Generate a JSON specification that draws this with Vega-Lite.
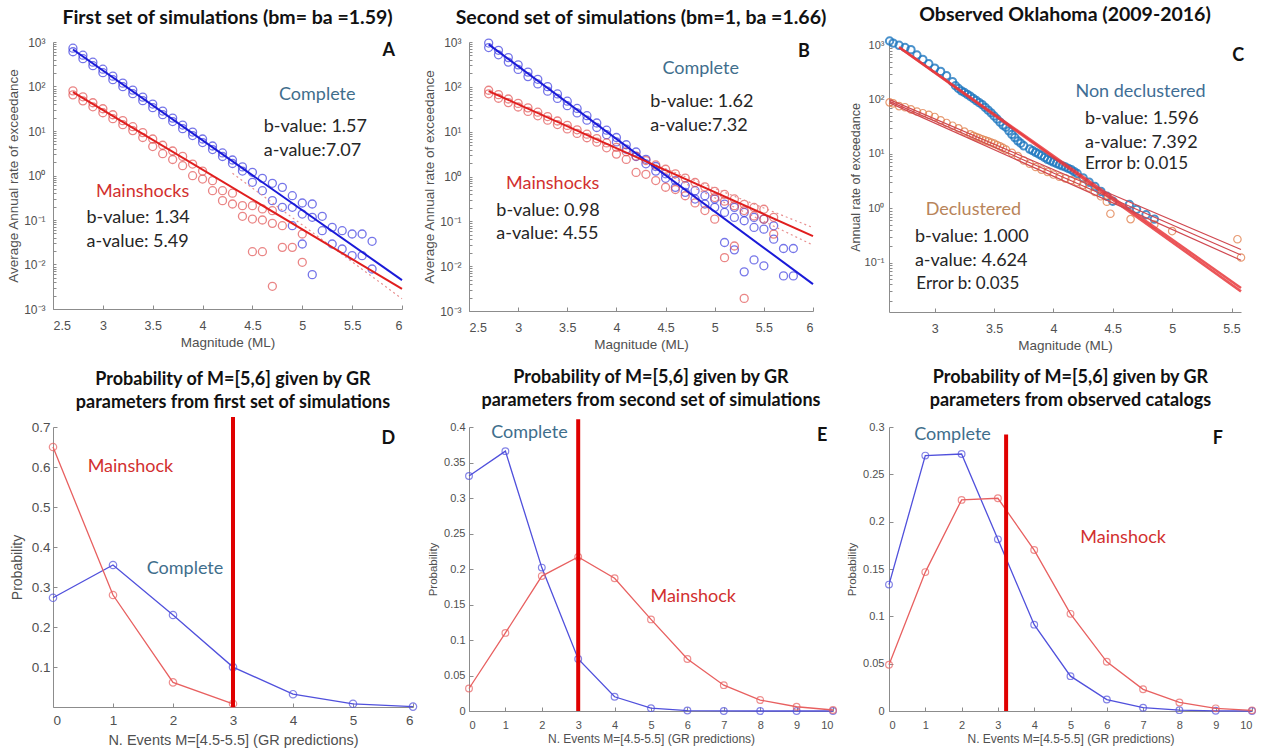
{
"$schema": "https://vega.github.io/schema/vega-lite/v6.json",
"padding": {"left": 6, "top": 4, "right": 4, "bottom": 4},
"background": "white",
"columns": 3,
"align": "none",
"bounds": "flush",
"spacing": {"row": 115, "column": 56},
"config": {
  "view": {"stroke": null},
  "axis": {"grid": false, "domainColor": "#8c8c8c", "tickColor": "#8c8c8c", "tickSize": -4, "labelColor": "#505050", "titleColor": "#505050", "labelFont": "Liberation Sans", "titleFont": "Liberation Sans", "titleFontWeight": "normal", "labelOverlap": false},
  "title": {"font": "Lato", "fontWeight": "bold", "fontSize": 19.5, "color": "#111111", "frame": "group", "anchor": "middle", "baseline": "bottom"},
  "text": {"font": "Lato"}
},
"datasets": {
  "A": [
    {"g":"c","m":2.7,"v":726},{"g":"c","m":2.7,"v":604},{"g":"c","m":2.8,"v":506},{"g":"c","m":2.8,"v":421},{"g":"c","m":2.9,"v":352},{"g":"c","m":2.9,"v":293},{"g":"c","m":3.0,"v":245},{"g":"c","m":3.0,"v":204},{"g":"c","m":3.1,"v":171},{"g":"c","m":3.1,"v":142},{"g":"c","m":3.2,"v":119},{"g":"c","m":3.2,"v":99.1},{"g":"c","m":3.3,"v":83.0},{"g":"c","m":3.3,"v":69.0},{"g":"c","m":3.4,"v":57.8},{"g":"c","m":3.4,"v":48.1},{"g":"c","m":3.5,"v":40.3},{"g":"c","m":3.5,"v":33.5},{"g":"c","m":3.6,"v":28.1},{"g":"c","m":3.6,"v":23.3},{"g":"c","m":3.7,"v":19.5},{"g":"c","m":3.7,"v":16.3},{"g":"c","m":3.8,"v":13.6},{"g":"c","m":3.8,"v":11.3},{"g":"c","m":3.9,"v":9.48},{"g":"c","m":3.9,"v":7.89},{"g":"c","m":4.0,"v":6.61},{"g":"c","m":4.0,"v":5.50},{"g":"c","m":4.1,"v":4.60},{"g":"c","m":4.1,"v":3.83},{"g":"c","m":4.2,"v":3.21},{"g":"c","m":4.2,"v":2.67},{"g":"c","m":4.3,"v":2.23},{"g":"c","m":4.3,"v":1.86},{"g":"c","m":4.4,"v":1.56},{"g":"c","m":4.4,"v":1.26},{"g":"c","m":4.5,"v":1.18},{"g":"c","m":4.5,"v":0.703},{"g":"c","m":4.6,"v":0.863},{"g":"c","m":4.6,"v":0.456},{"g":"c","m":4.7,"v":0.667},{"g":"c","m":4.7,"v":0.272},{"g":"c","m":4.8,"v":0.542},{"g":"c","m":4.8,"v":0.193},{"g":"c","m":4.9,"v":0.352},{"g":"c","m":4.9,"v":0.193},{"g":"c","m":4.9,"v":0.0746},{"g":"c","m":5.0,"v":0.241},{"g":"c","m":5.0,"v":0.136},{"g":"c","m":5.0,"v":0.0289},{"g":"c","m":5.1,"v":0.229},{"g":"c","m":5.1,"v":0.115},{"g":"c","m":5.1,"v":0.00592},{"g":"c","m":5.2,"v":0.121},{"g":"c","m":5.2,"v":0.0575},{"g":"c","m":5.3,"v":0.0684},{"g":"c","m":5.3,"v":0.0289},{"g":"c","m":5.4,"v":0.0575},{"g":"c","m":5.4,"v":0.0223},{"g":"c","m":5.5,"v":0.0484},{"g":"c","m":5.5,"v":0.0158},{"g":"c","m":5.6,"v":0.0484},{"g":"c","m":5.6,"v":0.0158},{"g":"c","m":5.7,"v":0.0332},{"g":"c","m":5.7,"v":0.00793},
    {"g":"m","m":2.7,"v":79.8},{"g":"m","m":2.7,"v":64.9},{"g":"m","m":2.8,"v":58.6},{"g":"m","m":2.8,"v":47.6},{"g":"m","m":2.9,"v":43.1},{"g":"m","m":2.9,"v":35.0},{"g":"m","m":3.0,"v":31.6},{"g":"m","m":3.0,"v":25.7},{"g":"m","m":3.1,"v":23.2},{"g":"m","m":3.1,"v":18.9},{"g":"m","m":3.2,"v":17.1},{"g":"m","m":3.2,"v":13.9},{"g":"m","m":3.3,"v":12.5},{"g":"m","m":3.3,"v":10.2},{"g":"m","m":3.4,"v":9.20},{"g":"m","m":3.4,"v":7.14},{"g":"m","m":3.5,"v":6.61},{"g":"m","m":3.5,"v":4.47},{"g":"m","m":3.6,"v":4.79},{"g":"m","m":3.6,"v":3.09},{"g":"m","m":3.7,"v":3.55},{"g":"m","m":3.7,"v":2.29},{"g":"m","m":3.8,"v":2.69},{"g":"m","m":3.8,"v":1.66},{"g":"m","m":3.9,"v":1.81},{"g":"m","m":3.9,"v":0.991},{"g":"m","m":4.0,"v":1.26},{"g":"m","m":4.0,"v":0.832},{"g":"m","m":4.1,"v":0.766},{"g":"m","m":4.1,"v":0.456},{"g":"m","m":4.2,"v":0.456},{"g":"m","m":4.2,"v":0.272},{"g":"m","m":4.3,"v":0.40},{"g":"m","m":4.3,"v":0.229},{"g":"m","m":4.4,"v":0.210},{"g":"m","m":4.4,"v":0.121},{"g":"m","m":4.5,"v":0.210},{"g":"m","m":4.5,"v":0.105},{"g":"m","m":4.5,"v":0.0194},{"g":"m","m":4.6,"v":0.177},{"g":"m","m":4.6,"v":0.100},{"g":"m","m":4.6,"v":0.0194},{"g":"m","m":4.7,"v":0.162},{"g":"m","m":4.7,"v":0.0841},{"g":"m","m":4.7,"v":0.00324},{"g":"m","m":4.8,"v":0.0746},{"g":"m","m":4.8,"v":0.0243},{"g":"m","m":4.9,"v":0.0243},{"g":"m","m":5.0,"v":0.0484},{"g":"m","m":5.0,"v":0.0112}
  ],
  "AL": [
    {"id":"bf","m":2.7,"v":678},{"id":"bf","m":6.0,"v":0.00447},
    {"id":"rf","m":2.7,"v":74.5},{"id":"rf","m":6.0,"v":0.00282},
    {"id":"d1","m":4.3,"v":1.12},{"id":"d1","m":6.0,"v":0.0017}
  ],
  "AT": [
    {"k":"c","t":"Complete","m":5.15,"v":64.5},
    {"k":"s","t":"b-value: 1.57","m":4.613,"v":12.3},
    {"k":"s","t":"a-value:7.07","m":4.613,"v":3.56},
    {"k":"m","t":"Mainshocks","m":3.399,"v":0.426},
    {"k":"s","t":"b-value: 1.34","m":2.836,"v":0.111},
    {"k":"s","t":"a-value: 5.49","m":2.836,"v":0.0321},
    {"k":"L","t":"A","m":5.868,"v":628}
  ],
  "B": [
    {"g":"c","m":2.7,"v":946},{"g":"c","m":2.7,"v":752},{"g":"c","m":2.8,"v":652},{"g":"c","m":2.8,"v":518},{"g":"c","m":2.9,"v":449},{"g":"c","m":2.9,"v":356},{"g":"c","m":3.0,"v":309},{"g":"c","m":3.0,"v":245},{"g":"c","m":3.1,"v":213},{"g":"c","m":3.1,"v":169},{"g":"c","m":3.2,"v":147},{"g":"c","m":3.2,"v":116},{"g":"c","m":3.3,"v":101},{"g":"c","m":3.3,"v":80.2},{"g":"c","m":3.4,"v":69.5},{"g":"c","m":3.4,"v":55.2},{"g":"c","m":3.5,"v":47.9},{"g":"c","m":3.5,"v":38.0},{"g":"c","m":3.6,"v":33.0},{"g":"c","m":3.6,"v":26.2},{"g":"c","m":3.7,"v":22.7},{"g":"c","m":3.7,"v":18.0},{"g":"c","m":3.8,"v":15.6},{"g":"c","m":3.8,"v":12.4},{"g":"c","m":3.9,"v":10.8},{"g":"c","m":3.9,"v":8.55},{"g":"c","m":4.0,"v":7.41},{"g":"c","m":4.0,"v":5.89},{"g":"c","m":4.1,"v":5.11},{"g":"c","m":4.1,"v":4.06},{"g":"c","m":4.2,"v":3.52},{"g":"c","m":4.2,"v":2.79},{"g":"c","m":4.3,"v":2.42},{"g":"c","m":4.3,"v":1.92},{"g":"c","m":4.4,"v":1.67},{"g":"c","m":4.4,"v":1.32},{"g":"c","m":4.5,"v":1.15},{"g":"c","m":4.5,"v":0.912},{"g":"c","m":4.6,"v":0.807},{"g":"c","m":4.6,"v":0.573},{"g":"c","m":4.7,"v":0.624},{"g":"c","m":4.7,"v":0.443},{"g":"c","m":4.8,"v":0.482},{"g":"c","m":4.8,"v":0.314},{"g":"c","m":4.9,"v":0.373},{"g":"c","m":4.9,"v":0.243},{"g":"c","m":5.0,"v":0.314},{"g":"c","m":5.0,"v":0.205},{"g":"c","m":5.1,"v":0.243},{"g":"c","m":5.1,"v":0.158},{"g":"c","m":5.1,"v":0.0337},{"g":"c","m":5.2,"v":0.205},{"g":"c","m":5.2,"v":0.122},{"g":"c","m":5.2,"v":0.0231},{"g":"c","m":5.3,"v":0.158},{"g":"c","m":5.3,"v":0.103},{"g":"c","m":5.3,"v":0.00746},{"g":"c","m":5.4,"v":0.122},{"g":"c","m":5.4,"v":0.0731},{"g":"c","m":5.4,"v":0.0138},{"g":"c","m":5.5,"v":0.112},{"g":"c","m":5.5,"v":0.0670},{"g":"c","m":5.5,"v":0.0102},{"g":"c","m":5.6,"v":0.0796},{"g":"c","m":5.6,"v":0.0401},{"g":"c","m":5.7,"v":0.0248},{"g":"c","m":5.7,"v":0.00607},{"g":"c","m":5.8,"v":0.0248},{"g":"c","m":5.8,"v":0.00607},
    {"g":"m","m":2.7,"v":83.9},{"g":"m","m":2.7,"v":69.8},{"g":"m","m":2.8,"v":67.0},{"g":"m","m":2.8,"v":55.7},{"g":"m","m":2.9,"v":53.5},{"g":"m","m":2.9,"v":44.5},{"g":"m","m":3.0,"v":42.7},{"g":"m","m":3.0,"v":35.5},{"g":"m","m":3.1,"v":34.0},{"g":"m","m":3.1,"v":28.3},{"g":"m","m":3.2,"v":27.2},{"g":"m","m":3.2,"v":22.6},{"g":"m","m":3.3,"v":21.7},{"g":"m","m":3.3,"v":18.0},{"g":"m","m":3.4,"v":17.3},{"g":"m","m":3.4,"v":14.4},{"g":"m","m":3.5,"v":13.8},{"g":"m","m":3.5,"v":11.5},{"g":"m","m":3.6,"v":11.0},{"g":"m","m":3.6,"v":9.16},{"g":"m","m":3.7,"v":8.79},{"g":"m","m":3.7,"v":7.31},{"g":"m","m":3.8,"v":7.01},{"g":"m","m":3.8,"v":5.83},{"g":"m","m":3.9,"v":5.60},{"g":"m","m":3.9,"v":4.37},{"g":"m","m":4.0,"v":4.47},{"g":"m","m":4.0,"v":3.16},{"g":"m","m":4.1,"v":3.56},{"g":"m","m":4.1,"v":2.40},{"g":"m","m":4.2,"v":2.84},{"g":"m","m":4.2,"v":1.23},{"g":"m","m":4.3,"v":2.27},{"g":"m","m":4.3,"v":1.12},{"g":"m","m":4.4,"v":1.81},{"g":"m","m":4.4,"v":0.813},{"g":"m","m":4.5,"v":1.45},{"g":"m","m":4.5,"v":0.575},{"g":"m","m":4.6,"v":1.15},{"g":"m","m":4.6,"v":0.513},{"g":"m","m":4.7,"v":0.920},{"g":"m","m":4.7,"v":0.372},{"g":"m","m":4.8,"v":0.735},{"g":"m","m":4.8,"v":0.257},{"g":"m","m":4.9,"v":0.586},{"g":"m","m":4.9,"v":0.174},{"g":"m","m":5.0,"v":0.468},{"g":"m","m":5.0,"v":0.339},{"g":"m","m":5.0,"v":0.112},{"g":"m","m":5.1,"v":0.398},{"g":"m","m":5.1,"v":0.282},{"g":"m","m":5.1,"v":0.0155},{"g":"m","m":5.2,"v":0.316},{"g":"m","m":5.2,"v":0.224},{"g":"m","m":5.2,"v":0.0282},{"g":"m","m":5.3,"v":0.240},{"g":"m","m":5.3,"v":0.174},{"g":"m","m":5.3,"v":0.00191},{"g":"m","m":5.4,"v":0.204},{"g":"m","m":5.4,"v":0.132},{"g":"m","m":5.5,"v":0.186},{"g":"m","m":5.5,"v":0.112},{"g":"m","m":5.6,"v":0.123},{"g":"m","m":5.6,"v":0.0519}
  ],
  "BL": [
    {"id":"bf","m":2.7,"v":883},{"id":"bf","m":6.0,"v":0.00398},
    {"id":"rf","m":2.7,"v":80.2},{"id":"rf","m":6.0,"v":0.0468},
    {"id":"d1","m":4.4,"v":1.82},{"id":"d1","m":6.0,"v":0.0724},
    {"id":"d2","m":4.4,"v":1.45},{"id":"d2","m":6.0,"v":0.0295}
  ],
  "BT": [
    {"k":"c","t":"Complete","m":4.857,"v":253},
    {"k":"s","t":"b-value: 1.62","m":4.343,"v":45.6},
    {"k":"s","t":"a-value:7.32","m":4.343,"v":13.7},
    {"k":"m","t":"Mainshocks","m":3.352,"v":0.679},
    {"k":"s","t":"b-value: 0.98","m":2.778,"v":0.172},
    {"k":"s","t":"a-value: 4.55","m":2.778,"v":0.0518},
    {"k":"L","t":"B","m":5.908,"v":598}
  ],
  "C": [
    {"g":"b","m":2.62,"v":1202},{"g":"b","m":2.65,"v":1096},{"g":"b","m":2.70,"v":1000},{"g":"b","m":2.75,"v":912},{"g":"b","m":2.80,"v":832},{"g":"b","m":2.85,"v":661},{"g":"b","m":2.90,"v":550},{"g":"b","m":2.95,"v":457},{"g":"b","m":3.00,"v":380},{"g":"b","m":3.05,"v":331},{"g":"b","m":3.10,"v":275},{"g":"b","m":3.15,"v":214},{"g":"b","m":3.175,"v":180},{"g":"b","m":3.20,"v":160},{"g":"b","m":3.225,"v":145},{"g":"b","m":3.25,"v":135},{"g":"b","m":3.275,"v":125},{"g":"b","m":3.30,"v":115},{"g":"b","m":3.325,"v":105},{"g":"b","m":3.35,"v":96},{"g":"b","m":3.375,"v":88},{"g":"b","m":3.40,"v":81},{"g":"b","m":3.425,"v":72},{"g":"b","m":3.45,"v":64},{"g":"b","m":3.475,"v":57},{"g":"b","m":3.50,"v":50},{"g":"b","m":3.525,"v":44},{"g":"b","m":3.55,"v":38.5},{"g":"b","m":3.575,"v":34},{"g":"b","m":3.60,"v":31},{"g":"b","m":3.625,"v":26.6},{"g":"b","m":3.65,"v":22.9},{"g":"b","m":3.675,"v":20.0},{"g":"b","m":3.70,"v":17.4},{"g":"b","m":3.725,"v":15.7},{"g":"b","m":3.75,"v":14.1},{"g":"b","m":3.80,"v":12.3},{"g":"b","m":3.825,"v":11.5},{"g":"b","m":3.85,"v":10.7},{"g":"b","m":3.875,"v":10.0},{"g":"b","m":3.90,"v":9.33},{"g":"b","m":3.925,"v":8.61},{"g":"b","m":3.95,"v":7.94},{"g":"b","m":3.975,"v":7.50},{"g":"b","m":4.00,"v":7.08},{"g":"b","m":4.025,"v":6.68},{"g":"b","m":4.05,"v":6.31},{"g":"b","m":4.075,"v":6.03},{"g":"b","m":4.10,"v":5.75},{"g":"b","m":4.125,"v":5.43},{"g":"b","m":4.15,"v":5.13},{"g":"b","m":4.175,"v":4.73},{"g":"b","m":4.20,"v":4.37},{"g":"b","m":4.25,"v":3.63},{"g":"b","m":4.30,"v":3.02},{"g":"b","m":4.35,"v":2.51},{"g":"b","m":4.40,"v":2.04},{"g":"b","m":4.45,"v":1.66},{"g":"b","m":4.50,"v":1.35},{"g":"b","m":4.64,"v":1.17},{"g":"b","m":4.70,"v":0.955},{"g":"b","m":4.78,"v":0.759},{"g":"b","m":4.85,"v":0.631},
    {"g":"o","m":2.62,"v":89.1},{"g":"o","m":2.65,"v":85.1},{"g":"o","m":2.70,"v":75.9},{"g":"o","m":2.75,"v":72.4},{"g":"o","m":2.80,"v":66.1},{"g":"o","m":2.85,"v":60.3},{"g":"o","m":2.90,"v":56.2},{"g":"o","m":2.95,"v":52.5},{"g":"o","m":3.00,"v":47.9},{"g":"o","m":3.05,"v":41.7},{"g":"o","m":3.10,"v":37.2},{"g":"o","m":3.15,"v":33.1},{"g":"o","m":3.20,"v":29.5},{"g":"o","m":3.25,"v":25.7},{"g":"o","m":3.30,"v":22.9},{"g":"o","m":3.325,"v":21.5},{"g":"o","m":3.35,"v":20.4},{"g":"o","m":3.375,"v":19.5},{"g":"o","m":3.40,"v":18.6},{"g":"o","m":3.425,"v":17.8},{"g":"o","m":3.45,"v":17.0},{"g":"o","m":3.475,"v":16.2},{"g":"o","m":3.50,"v":15.5},{"g":"o","m":3.525,"v":14.6},{"g":"o","m":3.55,"v":13.8},{"g":"o","m":3.575,"v":12.9},{"g":"o","m":3.60,"v":12.0},{"g":"o","m":3.65,"v":10.5},{"g":"o","m":3.70,"v":9.12},{"g":"o","m":3.75,"v":7.59},{"g":"o","m":3.80,"v":6.61},{"g":"o","m":3.85,"v":5.75},{"g":"o","m":3.90,"v":5.13},{"g":"o","m":3.95,"v":4.68},{"g":"o","m":4.00,"v":4.17},{"g":"o","m":4.05,"v":3.80},{"g":"o","m":4.10,"v":3.55},{"g":"o","m":4.15,"v":3.31},{"g":"o","m":4.20,"v":3.02},{"g":"o","m":4.25,"v":2.69},{"g":"o","m":4.30,"v":2.40},{"g":"o","m":4.35,"v":2.00},{"g":"o","m":4.40,"v":1.66},{"g":"o","m":4.45,"v":1.32},{"g":"o","m":4.48,"v":0.794},{"g":"o","m":4.65,"v":0.631},{"g":"o","m":4.85,"v":0.501},{"g":"o","m":5.00,"v":0.380},{"g":"o","m":5.55,"v":0.269},{"g":"o","m":5.58,"v":0.124}
  ],
  "CL": [
    {"id":"th","m":2.70,"v":920},{"id":"th","m":5.58,"v":0.0295},
    {"id":"th2","m":2.70,"v":920},{"id":"th2","m":5.58,"v":0.034},
    {"id":"t1","m":2.62,"v":100},{"id":"t1","m":5.58,"v":0.174},
    {"id":"t2","m":2.62,"v":93},{"id":"t2","m":5.58,"v":0.138},
    {"id":"t3","m":2.62,"v":87},{"id":"t3","m":5.58,"v":0.110}
  ],
  "CT": [
    {"k":"nd","t":"Non declustered","m":4.734,"v":138},
    {"k":"s","t":"b-value: 1.596","m":4.266,"v":43.3},
    {"k":"s","t":"a-value: 7.392","m":4.266,"v":15.7},
    {"k":"e","t":"Error b: 0.015","m":4.266,"v":6.59},
    {"k":"dc","t":"Declustered","m":3.326,"v":0.923},
    {"k":"s","t":"b-value: 1.000","m":2.833,"v":0.301},
    {"k":"s","t":"a-value: 4.624","m":2.833,"v":0.108},
    {"k":"e","t":"Error b: 0.035","m":2.845,"v":0.0405},
    {"k":"L","t":"C","m":5.556,"v":646}
  ],
  "D": [
    {"g":"c","k":0,"p":0.273},{"g":"c","k":1,"p":0.355},{"g":"c","k":2,"p":0.230},{"g":"c","k":3,"p":0.0998},{"g":"c","k":4,"p":0.032},{"g":"c","k":5,"p":0.008},{"g":"c","k":6,"p":0.001},
    {"g":"m","k":0,"p":0.650},{"g":"m","k":1,"p":0.280},{"g":"m","k":2,"p":0.0615},{"g":"m","k":3,"p":0.008}
  ],
  "DR": [{"k":3,"p":0,"p2":0.725}],
  "DT": [
    {"g":"m","t":"Mainshock","k":1.29,"p":0.600},
    {"g":"c","t":"Complete","k":2.20,"p":0.344},
    {"g":"L","t":"D","k":5.59,"p":0.671}
  ],
  "E": [
    {"g":"c","k":0,"p":0.331},{"g":"c","k":1,"p":0.366},{"g":"c","k":2,"p":0.202},{"g":"c","k":3,"p":0.0733},{"g":"c","k":4,"p":0.020},{"g":"c","k":5,"p":0.004},{"g":"c","k":6,"p":0.0006},{"g":"c","k":7,"p":0.0001},{"g":"c","k":8,"p":0},{"g":"c","k":9,"p":0},{"g":"c","k":10,"p":0},
    {"g":"m","k":0,"p":0.0317},{"g":"m","k":1,"p":0.110},{"g":"m","k":2,"p":0.190},{"g":"m","k":3,"p":0.217},{"g":"m","k":4,"p":0.187},{"g":"m","k":5,"p":0.129},{"g":"m","k":6,"p":0.0733},{"g":"m","k":7,"p":0.0364},{"g":"m","k":8,"p":0.0154},{"g":"m","k":9,"p":0.006},{"g":"m","k":10,"p":0.0014}
  ],
  "ER": [{"k":3,"p":0,"p2":0.411}],
  "ET": [
    {"g":"c","t":"Complete","k":1.66,"p":0.392},
    {"g":"m","t":"Mainshock","k":6.16,"p":0.161},
    {"g":"L","t":"E","k":9.70,"p":0.387}
  ],
  "F": [
    {"g":"c","k":0,"p":0.1335},{"g":"c","k":1,"p":0.2698},{"g":"c","k":2,"p":0.2715},{"g":"c","k":3,"p":0.1813},{"g":"c","k":4,"p":0.0912},{"g":"c","k":5,"p":0.0368},{"g":"c","k":6,"p":0.0121},{"g":"c","k":7,"p":0.0035},{"g":"c","k":8,"p":0.0009},{"g":"c","k":9,"p":0.0002},{"g":"c","k":10,"p":0},
    {"g":"m","k":0,"p":0.0489},{"g":"m","k":1,"p":0.1467},{"g":"m","k":2,"p":0.223},{"g":"m","k":3,"p":0.2247},{"g":"m","k":4,"p":0.170},{"g":"m","k":5,"p":0.1026},{"g":"m","k":6,"p":0.052},{"g":"m","k":7,"p":0.0229},{"g":"m","k":8,"p":0.009},{"g":"m","k":9,"p":0.0028},{"g":"m","k":10,"p":0.0007}
  ],
  "FR": [{"k":3.226,"p":0,"p2":0.292}],
  "FT": [
    {"g":"c","t":"Complete","k":1.75,"p":0.292},
    {"g":"m","t":"Mainshock","k":6.45,"p":0.183},
    {"g":"L","t":"F","k":9.06,"p":0.287}
  ]
},
"concat": [
  {
    "width": 349, "height": 267,
    "title": {"text": "First set of simulations (bm= ba =1.59)", "offset": 8},
    "encoding": {
      "x": {"field": "m", "type": "quantitative", "scale": {"domain": [2.5, 6], "nice": false, "zero": false}, "axis": {"values": [2.5,3,3.5,4,4.5,5,5.5,6], "format": "~g", "title": "Magnitude (ML)", "labelFontSize": 12.5, "titleFontSize": 13.5, "labelPadding": 14, "titlePadding": 4}},
      "y": {"field": "v", "type": "quantitative", "scale": {"type": "log", "domain": [0.001, 1000], "nice": false}, "axis": {"values": [0.001,0.002,0.003,0.004,0.005,0.006,0.007,0.008,0.009,0.01,0.02,0.03,0.04,0.05,0.06,0.07,0.08,0.09,0.1,0.2,0.3,0.4,0.5,0.6,0.7,0.8,0.9,1,2,3,4,5,6,7,8,9,10,20,30,40,50,60,70,80,90,100,200,300,400,500,600,700,800,900,1000], "labelExpr": "abs(log(datum.value)/LN10 - round(log(datum.value)/LN10)) < 0.001 ? '10' + ['⁻³','⁻²','⁻¹','⁰','¹','²','³'][round(log(datum.value)/LN10) + 3] : ''", "title": "Average Annual rate of exceedance", "labelFontSize": 12, "titleFontSize": 13.5, "labelPadding": 11, "titlePadding": 3.5, "tickSize": -3}}
    },
    "layer": [
      {"data": {"name": "A"}, "transform": [{"filter": "datum.g == 'c'"}], "mark": {"type": "point", "filled": false, "color": "#3c3ce0", "opacity": 0.7, "size": 64, "strokeWidth": 1.3}},
      {"data": {"name": "A"}, "transform": [{"filter": "datum.g == 'm'"}], "mark": {"type": "point", "filled": false, "color": "#e04545", "opacity": 0.65, "size": 64, "strokeWidth": 1.3}},
      {"data": {"name": "AL"}, "transform": [{"filter": "datum.id == 'd1'"}], "mark": {"type": "line", "color": "#e89090", "strokeWidth": 1.2, "strokeDash": [2, 3]}, "encoding": {"detail": {"field": "id"}}},
      {"data": {"name": "AL"}, "transform": [{"filter": "datum.id == 'bf'"}], "mark": {"type": "line", "color": "#1a1ad8", "strokeWidth": 2}, "encoding": {}},
      {"data": {"name": "AL"}, "transform": [{"filter": "datum.id == 'rf'"}], "mark": {"type": "line", "color": "#e01e1e", "strokeWidth": 2}, "encoding": {}},
      {"data": {"name": "AT"}, "transform": [{"filter": "datum.k == 'c'"}], "mark": {"type": "text", "fontSize": 18, "color": "#3f6e8c"}, "encoding": {"text": {"field": "t"}}},
      {"data": {"name": "AT"}, "transform": [{"filter": "datum.k == 'm'"}], "mark": {"type": "text", "fontSize": 18, "color": "#d2302f"}, "encoding": {"text": {"field": "t"}}},
      {"data": {"name": "AT"}, "transform": [{"filter": "datum.k == 's'"}], "mark": {"type": "text", "fontSize": 18, "color": "#262626", "align": "left"}, "encoding": {"text": {"field": "t"}}},
      {"data": {"name": "AT"}, "transform": [{"filter": "datum.k == 'L'"}], "mark": {"type": "text", "fontSize": 18, "fontWeight": "bold", "color": "#111111"}, "encoding": {"text": {"field": "t"}}}
    ]
  },
  {
    "width": 344, "height": 269,
    "title": {"text": "Second set of simulations (bm=1, ba =1.66)", "offset": 8},
    "encoding": {
      "x": {"field": "m", "type": "quantitative", "scale": {"domain": [2.5, 6], "nice": false, "zero": false}, "axis": {"values": [2.5,3,3.5,4,4.5,5,5.5,6], "format": "~g", "title": "Magnitude (ML)", "labelFontSize": 12.5, "titleFontSize": 13.5, "labelPadding": 14, "titlePadding": 4}},
      "y": {"field": "v", "type": "quantitative", "scale": {"type": "log", "domain": [0.001, 1000], "nice": false}, "axis": {"values": [0.001,0.002,0.003,0.004,0.005,0.006,0.007,0.008,0.009,0.01,0.02,0.03,0.04,0.05,0.06,0.07,0.08,0.09,0.1,0.2,0.3,0.4,0.5,0.6,0.7,0.8,0.9,1,2,3,4,5,6,7,8,9,10,20,30,40,50,60,70,80,90,100,200,300,400,500,600,700,800,900,1000], "labelExpr": "abs(log(datum.value)/LN10 - round(log(datum.value)/LN10)) < 0.001 ? '10' + ['⁻³','⁻²','⁻¹','⁰','¹','²','³'][round(log(datum.value)/LN10) + 3] : ''", "title": "Average Annual rate of exceedance", "labelFontSize": 12, "titleFontSize": 13.5, "labelPadding": 11, "titlePadding": 3.5, "tickSize": -3}}
    },
    "layer": [
      {"data": {"name": "B"}, "transform": [{"filter": "datum.g == 'c'"}], "mark": {"type": "point", "filled": false, "color": "#3c3ce0", "opacity": 0.7, "size": 64, "strokeWidth": 1.3}},
      {"data": {"name": "B"}, "transform": [{"filter": "datum.g == 'm'"}], "mark": {"type": "point", "filled": false, "color": "#e04545", "opacity": 0.65, "size": 64, "strokeWidth": 1.3}},
      {"data": {"name": "BL"}, "transform": [{"filter": "datum.id == 'd1' || datum.id == 'd2'"}], "mark": {"type": "line", "color": "#e89090", "strokeWidth": 1.2, "strokeDash": [2, 3]}, "encoding": {"detail": {"field": "id"}}},
      {"data": {"name": "BL"}, "transform": [{"filter": "datum.id == 'bf'"}], "mark": {"type": "line", "color": "#1a1ad8", "strokeWidth": 2}, "encoding": {}},
      {"data": {"name": "BL"}, "transform": [{"filter": "datum.id == 'rf'"}], "mark": {"type": "line", "color": "#e01e1e", "strokeWidth": 2}, "encoding": {}},
      {"data": {"name": "BT"}, "transform": [{"filter": "datum.k == 'c'"}], "mark": {"type": "text", "fontSize": 18, "color": "#3f6e8c"}, "encoding": {"text": {"field": "t"}}},
      {"data": {"name": "BT"}, "transform": [{"filter": "datum.k == 'm'"}], "mark": {"type": "text", "fontSize": 18, "color": "#d2302f"}, "encoding": {"text": {"field": "t"}}},
      {"data": {"name": "BT"}, "transform": [{"filter": "datum.k == 's'"}], "mark": {"type": "text", "fontSize": 18, "color": "#262626", "align": "left"}, "encoding": {"text": {"field": "t"}}},
      {"data": {"name": "BT"}, "transform": [{"filter": "datum.k == 'L'"}], "mark": {"type": "text", "fontSize": 18, "fontWeight": "bold", "color": "#111111"}, "encoding": {"text": {"field": "t"}}}
    ]
  },
  {
    "width": 352, "height": 270,
    "title": {"text": "Observed Oklahoma (2009-2016)", "offset": 8},
    "encoding": {
      "x": {"field": "m", "type": "quantitative", "scale": {"domain": [2.615, 5.58], "nice": false, "zero": false}, "axis": {"values": [3,3.5,4,4.5,5,5.5], "format": "~g", "title": "Magnitude (ML)", "labelFontSize": 12.5, "titleFontSize": 13.5, "labelPadding": 14, "titlePadding": 4}},
      "y": {"field": "v", "type": "quantitative", "scale": {"type": "log", "domain": [0.0123, 1150], "nice": false}, "axis": {"values": [0.02,0.03,0.04,0.05,0.06,0.07,0.08,0.09,0.1,0.2,0.3,0.4,0.5,0.6,0.7,0.8,0.9,1,2,3,4,5,6,7,8,9,10,20,30,40,50,60,70,80,90,100,200,300,400,500,600,700,800,900,1000], "labelExpr": "abs(log(datum.value)/LN10 - round(log(datum.value)/LN10)) < 0.001 ? '10' + ['⁻³','⁻²','⁻¹','⁰','¹','²','³'][round(log(datum.value)/LN10) + 3] : ''", "title": "Annual rate of exceedance", "labelFontSize": 11, "titleFontSize": 12.5, "labelPadding": 8, "titlePadding": 2, "tickSize": -3}}
    },
    "layer": [
      {"data": {"name": "C"}, "transform": [{"filter": "datum.g == 'b'"}], "mark": {"type": "point", "filled": false, "color": "#1f78c0", "opacity": 0.8, "size": 55, "strokeWidth": 2}},
      {"data": {"name": "C"}, "transform": [{"filter": "datum.g == 'o'"}], "mark": {"type": "point", "filled": false, "color": "#e07a45", "opacity": 0.75, "size": 55, "strokeWidth": 1.2}},
      {"data": {"name": "CL"}, "transform": [{"filter": "datum.id == 'th' || datum.id == 'th2'"}], "mark": {"type": "line", "color": "#e8383c", "strokeWidth": 2.5, "opacity": 0.85}, "encoding": {"detail": {"field": "id"}}},
      {"data": {"name": "CL"}, "transform": [{"filter": "datum.id == 't1' || datum.id == 't2' || datum.id == 't3'"}], "mark": {"type": "line", "color": "#d04850", "strokeWidth": 1.2}, "encoding": {"detail": {"field": "id"}}},
      {"data": {"name": "CT"}, "transform": [{"filter": "datum.k == 'nd'"}], "mark": {"type": "text", "fontSize": 18, "color": "#3f6e95"}, "encoding": {"text": {"field": "t"}}},
      {"data": {"name": "CT"}, "transform": [{"filter": "datum.k == 'dc'"}], "mark": {"type": "text", "fontSize": 18, "color": "#b8845a"}, "encoding": {"text": {"field": "t"}}},
      {"data": {"name": "CT"}, "transform": [{"filter": "datum.k == 's'"}], "mark": {"type": "text", "fontSize": 18, "color": "#262626", "align": "left"}, "encoding": {"text": {"field": "t"}}},
      {"data": {"name": "CT"}, "transform": [{"filter": "datum.k == 'e'"}], "mark": {"type": "text", "fontSize": 17, "color": "#262626", "align": "left"}, "encoding": {"text": {"field": "t"}}},
      {"data": {"name": "CT"}, "transform": [{"filter": "datum.k == 'L'"}], "mark": {"type": "text", "fontSize": 18, "fontWeight": "bold", "color": "#111111"}, "encoding": {"text": {"field": "t"}}}
    ]
  },
  {
    "width": 360, "height": 280,
    "title": {"text": ["Probability of M=[5,6] given by GR", "parameters from first set of simulations"], "offset": 3, "fontSize": 18, "lineHeight": 23},
    "encoding": {
      "x": {"field": "k", "type": "quantitative", "scale": {"domain": [0, 6], "nice": false}, "axis": {"values": [0,1,2,3,4,5,6], "title": "N. Events M=[4.5-5.5] (GR predictions)", "labelFontSize": 13.5, "titleFontSize": 14.5, "labelPadding": 10, "titlePadding": 7}},
      "y": {"field": "p", "type": "quantitative", "scale": {"domain": [0, 0.7], "nice": false}, "axis": {"values": [0.1,0.2,0.3,0.4,0.5,0.6,0.7], "title": "Probability", "labelFontSize": 13.5, "titleFontSize": 14, "labelPadding": 7, "titlePadding": 7}}
    },
    "layer": [
      {"data": {"name": "D"}, "transform": [{"filter": "datum.g == 'c'"}], "mark": {"type": "line", "color": "#5050dc", "strokeWidth": 1.3}, "encoding": {}},
      {"data": {"name": "D"}, "transform": [{"filter": "datum.g == 'c'"}], "mark": {"type": "point", "filled": false, "color": "#5050dc", "size": 55, "strokeWidth": 1.2}},
      {"data": {"name": "D"}, "transform": [{"filter": "datum.g == 'm'"}], "mark": {"type": "line", "color": "#e86060", "strokeWidth": 1.3}, "encoding": {}},
      {"data": {"name": "D"}, "transform": [{"filter": "datum.g == 'm'"}], "mark": {"type": "point", "filled": false, "color": "#e86060", "size": 55, "strokeWidth": 1.2}},
      {"data": {"name": "DR"}, "mark": {"type": "rule", "color": "#e00000", "strokeWidth": 4}, "encoding": {"y2": {"field": "p2"}}},
      {"data": {"name": "DT"}, "transform": [{"filter": "datum.g == 'c'"}], "mark": {"type": "text", "fontSize": 18, "color": "#3f6e8c"}, "encoding": {"text": {"field": "t"}}},
      {"data": {"name": "DT"}, "transform": [{"filter": "datum.g == 'm'"}], "mark": {"type": "text", "fontSize": 18, "color": "#d2302f"}, "encoding": {"text": {"field": "t"}}},
      {"data": {"name": "DT"}, "transform": [{"filter": "datum.g == 'L'"}], "mark": {"type": "text", "fontSize": 18, "fontWeight": "bold", "color": "#111111"}, "encoding": {"text": {"field": "t"}}}
    ]
  },
  {
    "width": 364, "height": 284,
    "title": {"text": ["Probability of M=[5,6] given by GR", "parameters from second set of simulations"], "offset": 7, "fontSize": 18, "lineHeight": 23},
    "encoding": {
      "x": {"field": "k", "type": "quantitative", "scale": {"domain": [0, 10], "nice": false}, "axis": {"values": [0,1,2,3,4,5,6,7,8,9,10], "title": "N. Events M=[4.5-5.5] (GR predictions)", "labelFontSize": 11, "titleFontSize": 12, "labelPadding": 12, "titlePadding": 3}},
      "y": {"field": "p", "type": "quantitative", "scale": {"domain": [0, 0.4], "nice": false}, "axis": {"values": [0,0.05,0.1,0.15,0.2,0.25,0.3,0.35,0.4], "format": "~g", "title": "Probability", "labelFontSize": 11, "titleFontSize": 11.5, "labelPadding": 8, "titlePadding": 5}}
    },
    "layer": [
      {"data": {"name": "E"}, "transform": [{"filter": "datum.g == 'c'"}], "mark": {"type": "line", "color": "#5050dc", "strokeWidth": 1.3}, "encoding": {}},
      {"data": {"name": "E"}, "transform": [{"filter": "datum.g == 'c'"}], "mark": {"type": "point", "filled": false, "color": "#5050dc", "size": 45, "strokeWidth": 1.2}},
      {"data": {"name": "E"}, "transform": [{"filter": "datum.g == 'm'"}], "mark": {"type": "line", "color": "#e86060", "strokeWidth": 1.3}, "encoding": {}},
      {"data": {"name": "E"}, "transform": [{"filter": "datum.g == 'm'"}], "mark": {"type": "point", "filled": false, "color": "#e86060", "size": 45, "strokeWidth": 1.2}},
      {"data": {"name": "ER"}, "mark": {"type": "rule", "color": "#e00000", "strokeWidth": 4}, "encoding": {"y2": {"field": "p2"}}},
      {"data": {"name": "ET"}, "transform": [{"filter": "datum.g == 'c'"}], "mark": {"type": "text", "fontSize": 18, "color": "#3f6e8c"}, "encoding": {"text": {"field": "t"}}},
      {"data": {"name": "ET"}, "transform": [{"filter": "datum.g == 'm'"}], "mark": {"type": "text", "fontSize": 18, "color": "#d2302f"}, "encoding": {"text": {"field": "t"}}},
      {"data": {"name": "ET"}, "transform": [{"filter": "datum.g == 'L'"}], "mark": {"type": "text", "fontSize": 18, "fontWeight": "bold", "color": "#111111"}, "encoding": {"text": {"field": "t"}}}
    ]
  },
  {
    "width": 363, "height": 284,
    "title": {"text": ["Probability of M=[5,6] given by GR", "parameters from observed catalogs"], "offset": 11, "fontSize": 18, "lineHeight": 23},
    "encoding": {
      "x": {"field": "k", "type": "quantitative", "scale": {"domain": [0, 10], "nice": false}, "axis": {"values": [0,1,2,3,4,5,6,7,8,9,10], "title": "N. Events M=[4.5-5.5] (GR predictions)", "labelFontSize": 11, "titleFontSize": 12, "labelPadding": 12, "titlePadding": 3}},
      "y": {"field": "p", "type": "quantitative", "scale": {"domain": [0, 0.3], "nice": false}, "axis": {"values": [0,0.05,0.1,0.15,0.2,0.25,0.3], "format": "~g", "title": "Probability", "labelFontSize": 11, "titleFontSize": 11.5, "labelPadding": 9, "titlePadding": 5}}
    },
    "layer": [
      {"data": {"name": "F"}, "transform": [{"filter": "datum.g == 'c'"}], "mark": {"type": "line", "color": "#5050dc", "strokeWidth": 1.3}, "encoding": {}},
      {"data": {"name": "F"}, "transform": [{"filter": "datum.g == 'c'"}], "mark": {"type": "point", "filled": false, "color": "#5050dc", "size": 45, "strokeWidth": 1.2}},
      {"data": {"name": "F"}, "transform": [{"filter": "datum.g == 'm'"}], "mark": {"type": "line", "color": "#e86060", "strokeWidth": 1.3}, "encoding": {}},
      {"data": {"name": "F"}, "transform": [{"filter": "datum.g == 'm'"}], "mark": {"type": "point", "filled": false, "color": "#e86060", "size": 45, "strokeWidth": 1.2}},
      {"data": {"name": "FR"}, "mark": {"type": "rule", "color": "#e00000", "strokeWidth": 4}, "encoding": {"y2": {"field": "p2"}}},
      {"data": {"name": "FT"}, "transform": [{"filter": "datum.g == 'c'"}], "mark": {"type": "text", "fontSize": 18, "color": "#3f6e8c"}, "encoding": {"text": {"field": "t"}}},
      {"data": {"name": "FT"}, "transform": [{"filter": "datum.g == 'm'"}], "mark": {"type": "text", "fontSize": 18, "color": "#d2302f"}, "encoding": {"text": {"field": "t"}}},
      {"data": {"name": "FT"}, "transform": [{"filter": "datum.g == 'L'"}], "mark": {"type": "text", "fontSize": 18, "fontWeight": "bold", "color": "#111111"}, "encoding": {"text": {"field": "t"}}}
    ]
  }
]
}
